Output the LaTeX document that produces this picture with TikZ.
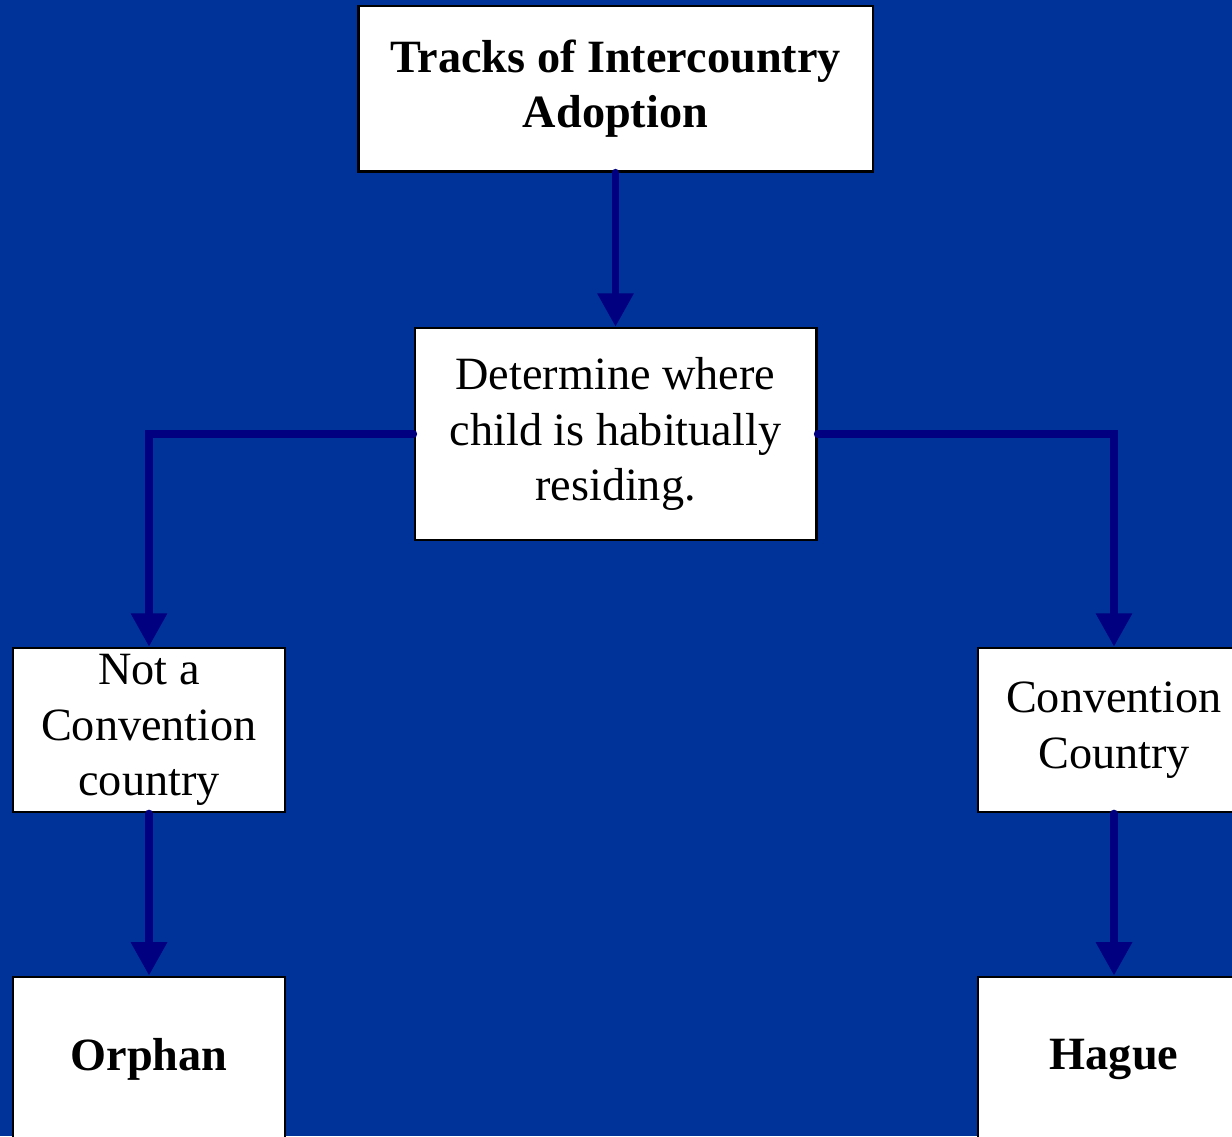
\documentclass[tikz,border=0pt]{standalone}
\usepackage{fontspec}
\setmainfont{Liberation Serif}
\usetikzlibrary{arrows.meta}

\definecolor{slideblue}{RGB}{0,51,153}
\definecolor{arrownavy}{RGB}{0,0,128}

\tikzset{
  box/.style={draw=black, line width=2pt, fill=white, align=center,
    inner sep=2pt, font=\fontsize{34.7}{41.5}\selectfont},
  flow/.style={draw=arrownavy, line width=5.5pt, line cap=round,
    -{Triangle[width=26pt,length=25pt]}}
}

\begin{document}
\begin{tikzpicture}[x=0.75pt,y=-0.75pt]
					\fill[slideblue] (0,0) rectangle (1232,1136);
					\useasboundingbox (0,0) rectangle (1232,1136);
					\clip (0,0) rectangle (1232,1136);
					% boxes
					\node[box, minimum width=386pt, minimum height=124pt] (tracks) at (615.5,88.5) {\bfseries Tracks of Intercountry\\ \bfseries Adoption};
					\node[box, minimum width=301pt, minimum height=159pt] (where) at (615.5,434) {Determine where\\ child is habitually\\ residing.};
					\node[box, minimum width=204pt, minimum height=123pt] (notconv) at (149,730) {Not a\\ Convention\\ country};
					\node[box, minimum width=204pt, minimum height=123pt] (conv) at (1114,730) {Convention\\ Country};
					\node[box, minimum width=204pt, minimum height=124pt] (orphan) at (149,1059.5) {\bfseries Orphan};
					\node[box, minimum width=204pt, minimum height=124pt] (hague) at (1114,1059.5) {\bfseries Hague};
					% arrows
					\draw[flow] (tracks) -- (where);
					\draw[flow] (where.west) -| (notconv);
					\draw[flow] (where.east) -| (conv);
					\draw[flow] (notconv) -- (orphan);
					\draw[flow] (conv) -- (hague);
				\end{tikzpicture}
\end{document}
